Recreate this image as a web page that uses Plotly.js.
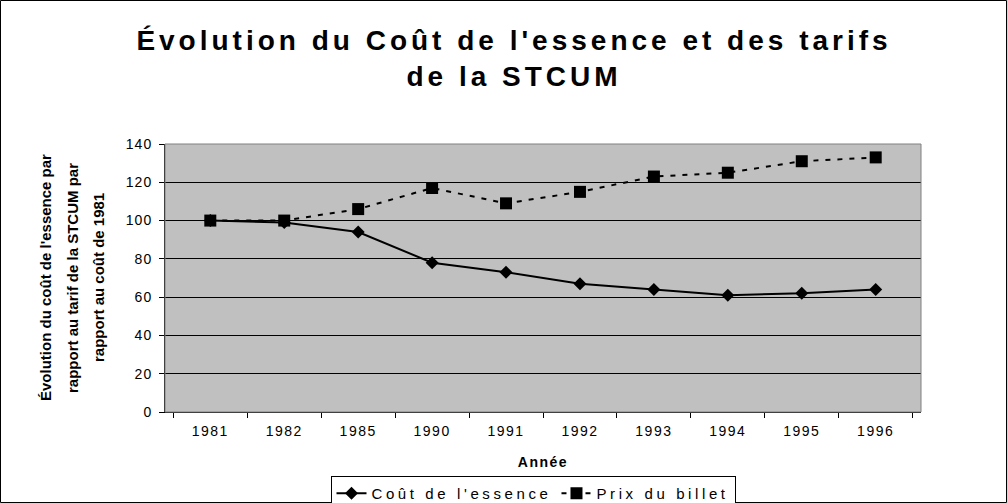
<!DOCTYPE html>
<html>
<head>
<meta charset="utf-8">
<script src="https://cdn.plot.ly/plotly-3.0.1.min.js"></script>
<style>
  html, body { margin: 0; padding: 0; background: #fff; }
  #chart { width: 1007px; height: 503px; }
  .gtitle { letter-spacing: 4px; }
  .xtick text { letter-spacing: 1.5px; }
  .ytick text { letter-spacing: 1px; }
  .legendtext { letter-spacing: 3.6px; }
  .g-xtitle text { letter-spacing: 1.5px; }
</style>
</head>
<body>
<div id="chart"></div>
<script>
const years = ["1981", "1982", "1985", "1990", "1991", "1992", "1993", "1994", "1995", "1996"];
const coutEssence = [100, 99, 94, 78, 73, 67, 64, 61, 62, 64];
const prixBillet = [100, 100, 106, 117, 109, 115, 123, 125, 131, 133];
const yTicks = [0, 20, 40, 60, 80, 100, 120, 140];
const seriesNames = ["Coût de l'essence", "Prix du billet"];
const titleText = "Évolution du Coût de l'essence et des tarifs<br>de la STCUM";
const xTitle = "Année";
const yTitleLines = ["Évolution du coût de l'essence par", "rapport au tarif de la STCUM par", "rapport au coût de 1981"];

const W = 1007, H = 503;
const mL = 165, mR = 86, mT = 144, mB = 91;
const pw = W - mL - mR, ph = H - mT - mB;
const px = v => (v - mL) / pw;
const py = v => (H - mB - v) / ph;

const font = "Arial, 'Liberation Sans', Helvetica, sans-serif";

const traces = [
  {
    x: years, y: coutEssence, name: seriesNames[0], type: "scatter", mode: "lines+markers",
    line: { color: "#000", width: 2 },
    marker: { symbol: "diamond", size: 10, color: "#000" }
  },
  {
    x: years, y: prixBillet, name: seriesNames[1], type: "scatter", mode: "lines+markers",
    line: { color: "#000", width: 2, dash: "5px,7px" },
    marker: { symbol: "square", size: 12, color: "#000" }
  }
];

const yLineX = [45, 72, 98];
const annotations = yTitleLines.map((t, i) => ({
  text: "<b>" + t + "</b>", xref: "paper", yref: "paper",
  x: px(yLineX[i]), y: 0.5, xanchor: "center", yanchor: "middle",
  textangle: -90, showarrow: false,
  font: { family: font, size: 15, color: "#000" }
}));

const layout = {
  width: W, height: H,
  margin: { l: mL, r: mR, t: mT, b: mB, pad: 0, autoexpand: false },
  paper_bgcolor: "#fff",
  plot_bgcolor: "#C0C0C0",
  font: { family: font, color: "#000", size: 14 },
  title: {
    text: titleText,
    font: { family: font, size: 28, color: "#000", weight: "bold" },
    x: px(514), xanchor: "center", xref: "paper",
    y: 1 - 50 / H, yanchor: "bottom", yref: "container"
  },
  xaxis: {
    type: "category",
    tickson: "boundaries",
    ticks: "outside", ticklen: 5, tickcolor: "#000", tickwidth: 1,
    showline: true, linecolor: "#000", linewidth: 1,
    showgrid: false, zeroline: false, automargin: false,
    tickfont: { family: font, size: 14, color: "#000" },
    ticklabelstandoff: 6,
    title: { text: xTitle, font: { family: font, size: 14, color: "#000", weight: "bold" }, standoff: 19 }
  },
  yaxis: {
    range: [0, 140],
    tickvals: yTicks,
    ticks: "outside", ticklen: 5, tickcolor: "#000", tickwidth: 1,
    showline: true, linecolor: "#000", linewidth: 1,
    showgrid: true, gridcolor: "#000", gridwidth: 1,
    zeroline: false, automargin: false,
    tickfont: { family: font, size: 14, color: "#000" },
    ticklabelstandoff: 4
  },
  showlegend: true,
  legend: {
    orientation: "h",
    xref: "container", yref: "container",
    x: 533 / W, xanchor: "center",
    y: 1 - 476 / H, yanchor: "top",
    bgcolor: "#fff", bordercolor: "#000", borderwidth: 1,
    font: { family: font, size: 15, color: "#000" },
    itemwidth: 30
  },
  annotations: annotations,
  shapes: [
    { type: "rect", xref: "paper", yref: "paper", x0: 0, x1: 1, y0: 0, y1: 1,
      line: { color: "#808080", width: 1 }, fillcolor: "rgba(0,0,0,0)", layer: "above" },
    { type: "rect", xref: "paper", yref: "paper",
      x0: px(0.5), x1: px(W - 0.5), y0: py(H - 0.5), y1: py(0.5),
      line: { color: "#000", width: 1 }, fillcolor: "rgba(0,0,0,0)", layer: "above" }
  ]
};

Plotly.newPlot("chart", traces, layout, { displayModeBar: false, responsive: false });
</script>
</body>
</html>
